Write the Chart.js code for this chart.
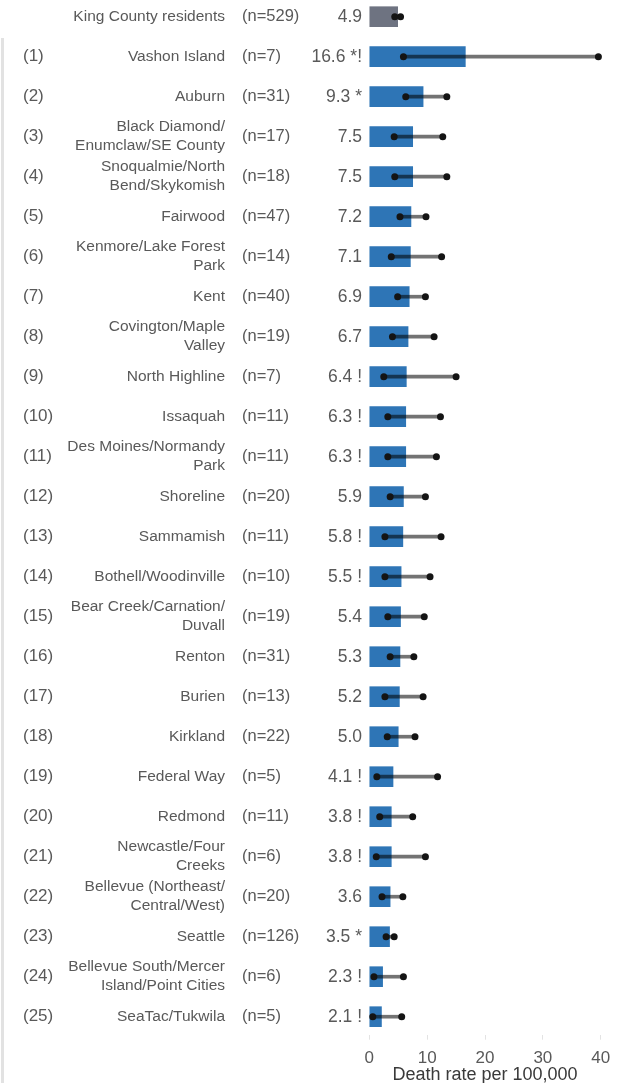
<!DOCTYPE html>
<html>
<head>
<meta charset="utf-8">
<script src="https://cdn.jsdelivr.net/npm/chart.js@4"></script>
<style>
  html, body { margin: 0; padding: 0; background: #fff; overflow: hidden; }
  #wrap { width: 621px; height: 1095px; }
</style>
</head>
<body>
<div id="wrap"><canvas id="rateChart" width="621" height="1095"></canvas></div>
<script>
// Death rate per 100,000 by area, with 95% CI
const categories = [
    'King County residents', 'Vashon Island', 'Auburn',
    ['Black Diamond/', 'Enumclaw/SE County'], ['Snoqualmie/North', 'Bend/Skykomish'],
    'Fairwood', ['Kenmore/Lake Forest', 'Park'], 'Kent', ['Covington/Maple', 'Valley'],
    'North Highline', 'Issaquah', ['Des Moines/Normandy', 'Park'], 'Shoreline',
    'Sammamish', 'Bothell/Woodinville', ['Bear Creek/Carnation/', 'Duvall'],
    'Renton', 'Burien', 'Kirkland', 'Federal Way', 'Redmond', ['Newcastle/Four', 'Creeks'],
    ['Bellevue (Northeast/', 'Central/West)'], 'Seattle', ['Bellevue South/Mercer', 'Island/Point Cities'],
    'SeaTac/Tukwila'
];
const counts = [529, 7, 31, 17, 18, 47, 14, 40, 19, 7, 11, 11, 20, 11, 10, 19, 31, 13, 22, 5, 11, 6, 20, 126, 6, 5];
const rates = [4.9, 16.6, 9.3, 7.5, 7.5, 7.2, 7.1, 6.9, 6.7, 6.4, 6.3, 6.3, 5.9, 5.8, 5.5, 5.4, 5.3, 5.2, 5.0, 4.1, 3.8, 3.8, 3.6, 3.5, 2.3, 2.1];
const flags = ['', '*!', '*', '', '', '', '', '', '', '!', '!', '!', '', '!', '!', '', '', '', '', '!', '!', '!', '', '*', '!', '!'];
const ciLow = [4.4, 5.9, 6.3, 4.3, 4.4, 5.3, 3.8, 4.9, 4.0, 2.5, 3.2, 3.2, 3.6, 2.7, 2.7, 3.2, 3.6, 2.7, 3.1, 1.3, 1.8, 1.2, 2.2, 2.9, 0.8, 0.6];
const ciHigh = [5.4, 39.6, 13.4, 12.7, 13.4, 9.8, 12.5, 9.7, 11.2, 15.0, 12.3, 11.6, 9.7, 12.4, 10.5, 9.5, 7.7, 9.3, 7.9, 11.8, 7.5, 9.7, 5.8, 4.3, 5.9, 5.6];
const xTicks = [0, 10, 20, 30, 40];

const FONT = "'Liberation Sans', Arial, sans-serif";
const TEXT = '#595959';
const barColors = rates.map((v, i) => i === 0 ? '#6e7381' : '#2e75b6');

// left-hand text columns, placed on the y scale rows
const tableText = {
    id: 'tableText',
    afterDraw(chart) {
        const ctx = chart.ctx;
        const yScale = chart.scales.y;
        ctx.save();
        // light panel border on the left
        ctx.fillStyle = '#e2e2e2';
        ctx.fillRect(1, 38, 3, chart.height - 38);

        ctx.fillStyle = TEXT;
        ctx.textBaseline = 'middle';
        categories.forEach((name, i) => {
            const y = yScale.getPixelForValue(i);
            if (i > 0) {
                ctx.font = '17px ' + FONT;
                ctx.textAlign = 'left';
                ctx.fillText('(' + i + ')', 23, y);
            }
            ctx.font = '15.5px ' + FONT;
            ctx.textAlign = 'right';
            const lines = Array.isArray(name) ? name : [name];
            lines.forEach((line, j) => {
                ctx.fillText(line, 225, y + (j - (lines.length - 1) / 2) * 19);
            });
            ctx.font = '16.5px ' + FONT;
            ctx.textAlign = 'left';
            ctx.fillText('(n=' + counts[i] + ')', 242, y);
            ctx.font = '17.5px ' + FONT;
            ctx.textAlign = 'right';
            ctx.fillText(rates[i].toFixed(1) + (flags[i] ? ' ' + flags[i] : ''), 362, y);
        });
        ctx.restore();
    }
};

const ctx = document.getElementById('rateChart').getContext('2d');
new Chart(ctx, {
    type: 'bar',
    data: {
        labels: categories,
        datasets: [
            {
                label: 'Rate',
                data: rates,
                backgroundColor: barColors,
                barThickness: 20,
                order: 3,
                clip: false
            },
            {
                label: 'CI',
                data: ciLow.map((lo, i) => [lo, ciHigh[i]]),
                backgroundColor: 'rgba(0,0,0,0.55)',
                barThickness: 3,
                order: 2,
                clip: false
            },
            {
                type: 'line',
                label: 'CI low',
                data: ciLow,
                showLine: false,
                pointRadius: 3.5,
                pointBackgroundColor: '#141414',
                pointBorderWidth: 0,
                order: 1,
                clip: false
            },
            {
                type: 'line',
                label: 'CI high',
                data: ciHigh,
                showLine: false,
                pointRadius: 3.5,
                pointBackgroundColor: '#141414',
                pointBorderWidth: 0,
                order: 1,
                clip: false
            }
        ]
    },
    options: {
        indexAxis: 'y',
        responsive: false,
        animation: false,
        datasets: { bar: { grouped: false } },
        layout: { padding: { left: 369.3, right: 20.3, top: 16.7, bottom: 0 } },
        plugins: {
            legend: { display: false },
            tooltip: { enabled: false }
        },
        scales: {
            y: {
                type: 'category',
                offset: false,
                display: false
            },
            x: {
                type: 'linear',
                min: 0,
                max: 40,
                afterBuildTicks: (scale) => { scale.ticks = xTicks.map(v => ({ value: v })); },
                afterFit: (scale) => { scale.height = 1095 - 1016.7; },
                border: { display: false },
                grid: {
                    drawOnChartArea: false,
                    tickLength: 23,
                    tickColor: '#e3e3e3',
                    tickBorderDash: [0, 18, 5, 100]
                },
                ticks: {
                    padding: 8,
                    color: TEXT,
                    font: { family: FONT, size: 17 }
                },
                title: {
                    display: true,
                    text: 'Death rate per 100,000',
                    color: '#3a3a3a',
                    font: { family: FONT, size: 18 },
                    padding: { top: 0, bottom: 9 }
                }
            }
        }
    },
    plugins: [tableText]
});
</script>
</body>
</html>
